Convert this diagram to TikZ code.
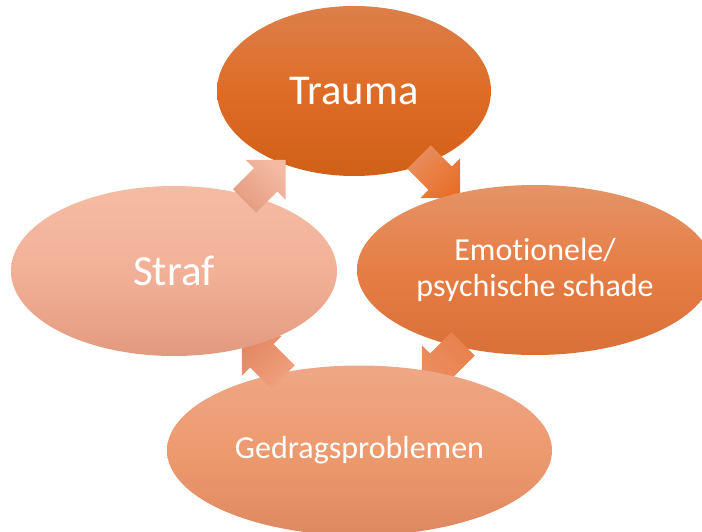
\documentclass[tikz,border=0pt]{standalone}
\usepackage{fontspec}
\setmainfont[Ligatures=NoCommon]{Carlito}
\usetikzlibrary{shapes.geometric}
\definecolor{trT}{RGB}{220,127,75}
\definecolor{trM}{RGB}{223,108,38}
\definecolor{trB}{RGB}{208,95,24}
\definecolor{emT}{RGB}{229,148,103}
\definecolor{emM}{RGB}{230,125,69}
\definecolor{emB}{RGB}{217,112,56}
\definecolor{stT}{RGB}{244,188,164}
\definecolor{stM}{RGB}{242,177,151}
\definecolor{stB}{RGB}{226,154,127}
\definecolor{geT}{RGB}{238,167,134}
\definecolor{geM}{RGB}{238,154,111}
\definecolor{geB}{RGB}{222,136,96}
\definecolor{aoneT}{RGB}{232,142,96}
\definecolor{aoneB}{RGB}{232,112,40}
\definecolor{atwoT}{RGB}{236,142,94}
\definecolor{atwoB}{RGB}{232,128,76}
\definecolor{athrT}{RGB}{240,162,124}
\definecolor{athrB}{RGB}{228,136,100}
\definecolor{afouT}{RGB}{244,186,162}
\definecolor{afouB}{RGB}{228,155,128}
\tikzset{
  blob/.style={ellipse, inner sep=0pt, text=white, align=center},
  cyclearrow/.pic={
    \path[pic actions] (0,-16.5) -- (30,-16.5) -- (30,-28) -- (58,0) -- (30,28) -- (30,16.5) -- (0,16.5) -- cycle;
  }
}
\begin{document}
\begin{tikzpicture}[x=1pt,y=-1pt]
\useasboundingbox (0,0) rectangle (702,532);
\clip (0,0) rectangle (702,532);
% Trauma
\node[blob, minimum width=274pt, minimum height=170pt,
      top color=trT, bottom color=trB, middle color=trM,
      font=\fontsize{42.5}{46}\selectfont] (trauma) at (354,91) {Trauma};
% arrow 1
\pic[top color=aoneT, bottom color=aoneB, shading angle=45] (a1) at (419,157) [rotate=-45] {cyclearrow};
% Emotionele
\node[blob, minimum width=356pt, minimum height=170pt,
      top color=emT, bottom color=emB, middle color=emM,
      font=\fontsize{32}{35.5}\selectfont] (emo) at (535,270) {Emotionele/\\psychische schade};
% arrow 2
\pic[top color=atwoT, bottom color=atwoB, shading angle=135] (a2) at (463,344) [rotate=-135] {cyclearrow};
% Gedragsproblemen
\node[blob, minimum width=385pt, minimum height=170pt,
      top color=geT, bottom color=geB, middle color=geM,
      font=\fontsize{32}{36}\selectfont] (gedrag) at (359.5,450.5) {Gedragsproblemen};
% arrow 3
\pic[top color=athrT, bottom color=athrB, shading angle=-135] (a3) at (283,377) [rotate=135] {cyclearrow};
% Straf
\node[blob, minimum width=326pt, minimum height=170pt,
      top color=stT, bottom color=stB, middle color=stM,
      font=\fontsize{43}{46}\selectfont] (straf) at (174,271) {Straf};
% arrow 4
\pic[top color=afouT, bottom color=afouB, shading angle=-45] (a4) at (244.5,201) [rotate=45] {cyclearrow};
\end{tikzpicture}
\end{document}
